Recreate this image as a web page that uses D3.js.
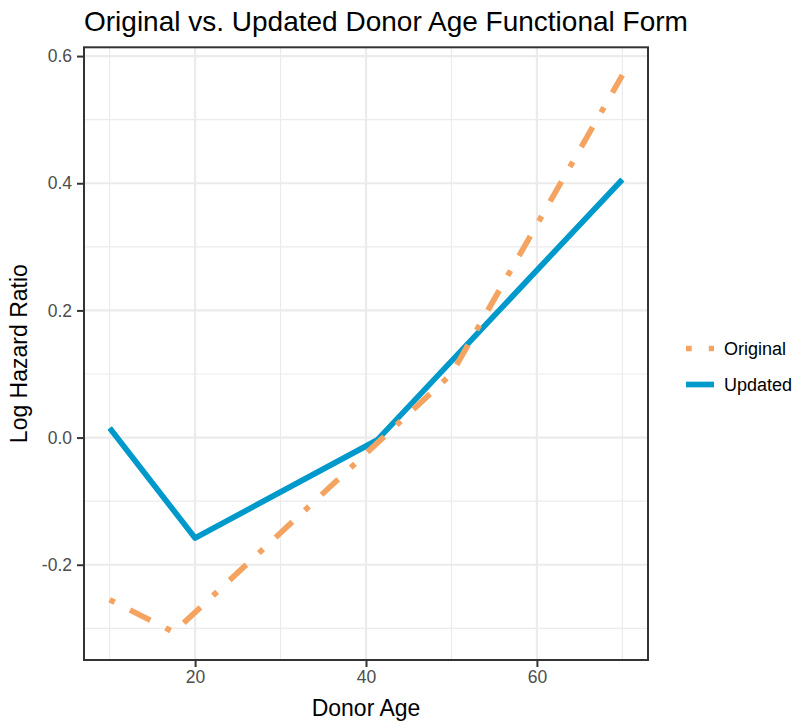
<!DOCTYPE html>
<html>
<head>
<meta charset="utf-8">
<script src="https://cdn.jsdelivr.net/npm/d3@7"></script>
<style>
  body { margin: 0; background: #fff; }
  svg { display: block; font-family: Arial, "Liberation Sans", sans-serif; }
</style>
</head>
<body>
<svg id="chart" width="800" height="726"></svg>
<script>
// ---- data ----
const seriesNames = ["Original", "Updated"];
const originalAge = [10, 17.5, 50, 70];
const originalLogHR = [-0.255, -0.306, 0.100, 0.570];
const updatedAge = [10, 20, 41.3, 70];
const updatedLogHR = [0.015, -0.158, -0.004, 0.406];
const xTicks = [20, 40, 60];
const xMinor = [10, 30, 50, 70];
const yTicks = [-0.2, 0.0, 0.2, 0.4, 0.6];
const yMinor = [-0.3, -0.1, 0.1, 0.3, 0.5];
const titleText = "Original vs. Updated Donor Age Functional Form";
const xLabel = "Donor Age";
const yLabel = "Log Hazard Ratio";

const colors = { Original: "#F4A460", Updated: "#0099CC" };
const lw = 5.7;
const dotdash = [lw, 3 * lw, 4 * lw, 3 * lw].join(" ");

const series = [
  { name: "Original", pts: originalAge.map((a, i) => ({ x: a, y: originalLogHR[i] })) },
  { name: "Updated", pts: updatedAge.map((a, i) => ({ x: a, y: updatedLogHR[i] })) }
];

// ---- layout ----
const panel = { left: 84, right: 648, top: 47.3, bottom: 660 };
const svg = d3.select("#chart");

const allX = originalAge.concat(updatedAge);
const allY = originalLogHR.concat(updatedLogHR);
const [x0, x1] = d3.extent(allX);
const [y0, y1] = d3.extent(allY);
const ex = (x1 - x0) * 0.05, ey = (y1 - y0) * 0.05;

const x = d3.scaleLinear().domain([x0 - ex, x1 + ex]).range([panel.left, panel.right]);
const y = d3.scaleLinear().domain([y0 - ey, y1 + ey]).range([panel.bottom, panel.top]);

// grid
const g = svg.append("g");
g.selectAll(".vmin").data(xMinor).join("line")
  .attr("x1", d => x(d)).attr("x2", d => x(d))
  .attr("y1", panel.top).attr("y2", panel.bottom)
  .attr("stroke", "#EBEBEB").attr("stroke-width", 1.1);
g.selectAll(".hmin").data(yMinor).join("line")
  .attr("y1", d => y(d)).attr("y2", d => y(d))
  .attr("x1", panel.left).attr("x2", panel.right)
  .attr("stroke", "#EBEBEB").attr("stroke-width", 1.1);
g.selectAll(".vmaj").data(xTicks).join("line")
  .attr("x1", d => x(d)).attr("x2", d => x(d))
  .attr("y1", panel.top).attr("y2", panel.bottom)
  .attr("stroke", "#EBEBEB").attr("stroke-width", 2.2);
g.selectAll(".hmaj").data(yTicks).join("line")
  .attr("y1", d => y(d)).attr("y2", d => y(d))
  .attr("x1", panel.left).attr("x2", panel.right)
  .attr("stroke", "#EBEBEB").attr("stroke-width", 2.2);

// lines
const line = d3.line().x(d => x(d.x)).y(d => y(d.y));
svg.append("path").datum(series[1].pts)
  .attr("d", line).attr("fill", "none")
  .attr("stroke", colors.Updated).attr("stroke-width", lw)
  .attr("stroke-linejoin", "round");
svg.append("path").datum(series[0].pts)
  .attr("d", line).attr("fill", "none")
  .attr("stroke", colors.Original).attr("stroke-width", lw)
  .attr("stroke-dasharray", dotdash)
  .attr("stroke-linejoin", "round");

// panel border
svg.append("rect")
  .attr("x", panel.left).attr("y", panel.top)
  .attr("width", panel.right - panel.left).attr("height", panel.bottom - panel.top)
  .attr("fill", "none").attr("stroke", "#333333").attr("stroke-width", 2);

// axes
const fmtY = d => d3.format(".1f")(d).replace("\u2212", "-");
const xAxis = d3.axisBottom(x).tickValues(xTicks).tickSize(7).tickPadding(4)
  .tickFormat(d3.format("d"));
const gx = svg.append("g").attr("transform", `translate(0,${panel.bottom})`).call(xAxis);
const yAxis = d3.axisLeft(y).tickValues(yTicks).tickSize(7).tickPadding(5)
  .tickFormat(fmtY);
const gy = svg.append("g").attr("transform", `translate(${panel.left},0)`).call(yAxis);
[gx, gy].forEach(a => {
  a.select(".domain").remove();
  a.selectAll(".tick line").attr("stroke", "#333333").attr("stroke-width", 2);
  a.selectAll(".tick text").attr("fill", "#4D4D4D").style("font-size", "17.5px")
    .style("font-family", "Arial, 'Liberation Sans', sans-serif");
});
gx.selectAll(".tick text").attr("dy", "0.71em");

// titles
svg.append("text").attr("x", panel.left).attr("y", 31)
  .style("font-size", "28px").attr("fill", "#000").text(titleText);
svg.append("text").attr("x", (panel.left + panel.right) / 2).attr("y", 716)
  .attr("text-anchor", "middle").style("font-size", "23px").attr("fill", "#000").text(xLabel);
svg.append("text")
  .attr("transform", `translate(27,${(panel.top + panel.bottom) / 2}) rotate(-90)`)
  .attr("text-anchor", "middle").style("font-size", "23px").attr("fill", "#000").text(yLabel);

// legend
const legendY = [348.5, 384.5];
const leg = svg.append("g");
seriesNames.forEach((name, i) => {
  const ly = legendY[i];
  const l = leg.append("line").attr("x1", 686).attr("x2", 714)
    .attr("y1", ly).attr("y2", ly)
    .attr("stroke", colors[name]).attr("stroke-width", lw);
  if (name === "Original") l.attr("stroke-dasharray", dotdash);
  leg.append("text").attr("x", 724).attr("y", ly).attr("dy", "0.35em")
    .style("font-size", "18px").attr("fill", "#000").text(name);
});
</script>
</body>
</html>
